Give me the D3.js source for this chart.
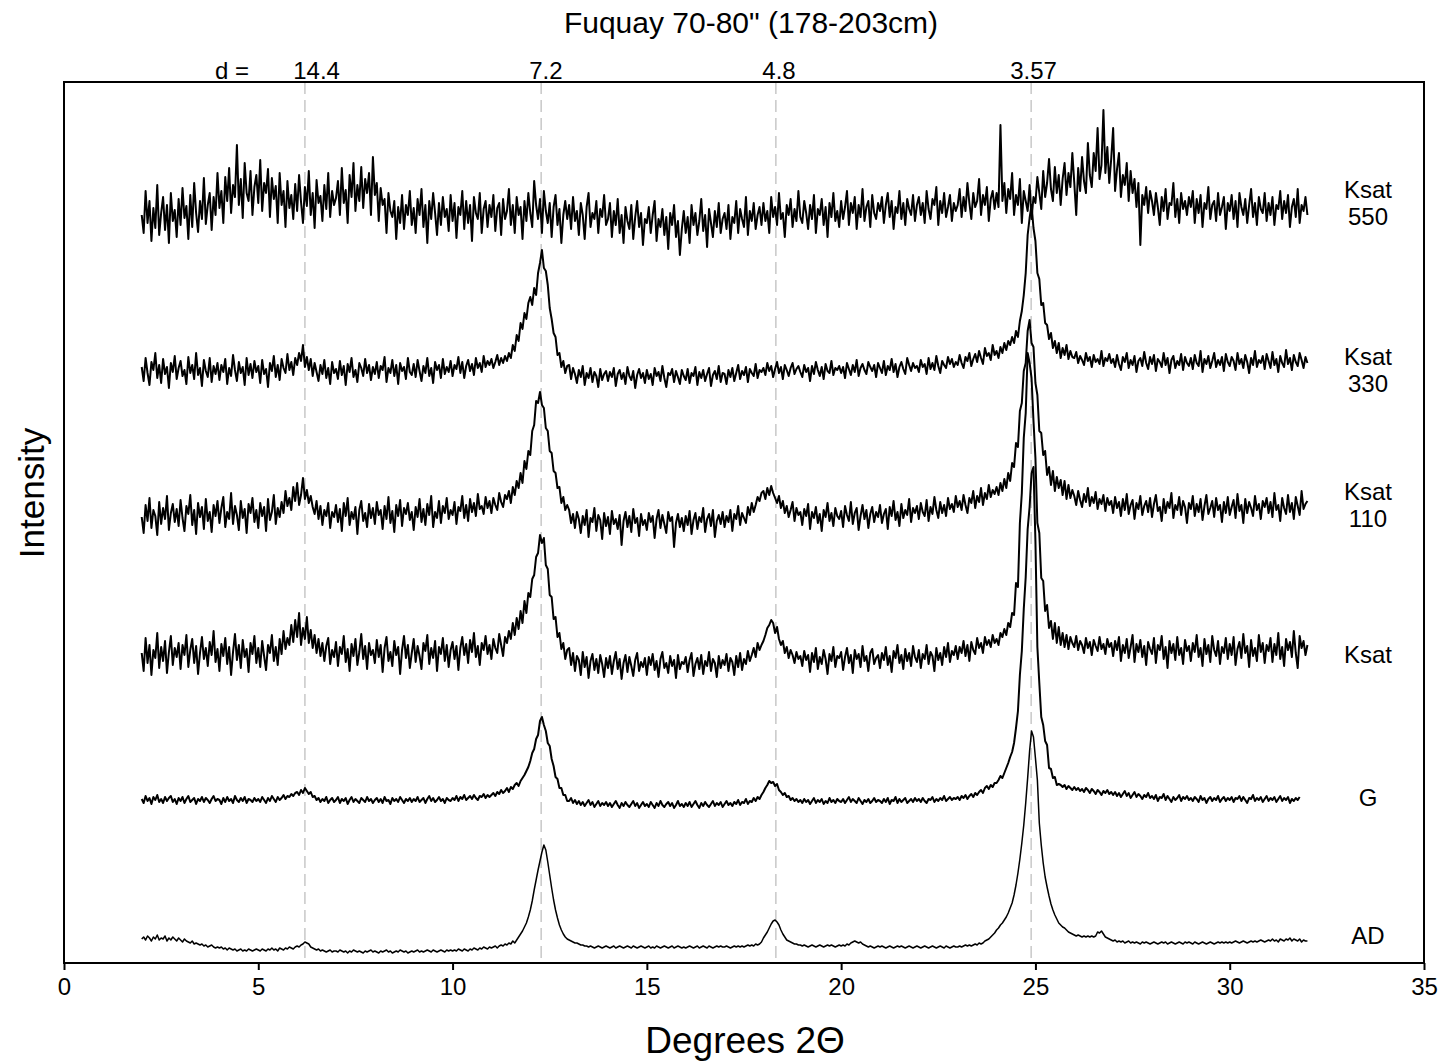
<!DOCTYPE html>
<html>
<head>
<meta charset="utf-8">
<script src="https://cdn.jsdelivr.net/npm/d3@7"></script>
<style>
  body { margin: 0; background: #fff; }
  text { font-family: Arial, "Liberation Sans", sans-serif; fill: #000; }
</style>
</head>
<body>
<svg id="chart" width="1450" height="1064"></svg>
<script>
// ---- data ---------------------------------------------------------------
// Scans run from 2 to 32 degrees 2-theta in 0.05 degree steps.
// Each pattern is stored one row per whole degree (20 readings per row).
const scanStart = 2;
const scanStep = 0.05;

const sampleNames = ["AD", "G", "Ksat", "Ksat 110", "Ksat 330", "Ksat 550"];
const sampleLabelLines = [["AD"], ["G"], ["Ksat"], ["Ksat", "110"], ["Ksat", "330"], ["Ksat", "550"]];
// vertical stacking offset added to each pattern (intensity units)
const stackOffset = [0, 140, 280, 420, 560, 700];

const dSpacings = ["14.4", "7.2", "4.8", "3.57"];
const dSpacingTwoTheta = [6.2, 12.28, 18.32, 24.89];
const dSpacingLabelTwoTheta = [6.5, 12.4, 18.4, 24.95];

const xTickValues = [0, 5, 10, 15, 20, 25, 30, 35];

const adPattern = [
  [24,26,23,27,25,22,26,24,28,23,25,24,27,22,25,23,26,24,22,25],
  [23,21,24,22,21,20,22,19,20,19,18,19,17,18,16,17,18,16,15,16],
  [15,16,14,15,13,15,14,13,14,12,13,14,12,13,12,14,13,12,13,14],
  [13,12,14,13,12,14,13,15,13,14,12,15,14,13,15,14,16,15,14,16],
  [17,16,18,19,21,20,19,16,15,14,13,14,12,13,12,11,12,13,11,12],
  [12,11,13,12,11,12,10,12,11,13,12,11,12,11,10,12,11,12,13,11],
  [12,11,10,12,11,12,13,11,12,10,11,12,11,13,12,11,12,10,11,12],
  [11,12,13,11,12,11,12,13,12,11,13,12,11,12,13,12,11,13,12,13],
  [12,13,12,14,13,12,14,13,12,14,13,15,14,13,15,14,16,15,14,16],
  [15,16,17,15,17,18,17,19,18,20,19,22,20,23,26,29,32,36,40,46],
  [53,62,73,83,93,102,111,118,113,101,88,75,63,53,45,38,33,29,26,24],
  [23,22,21,20,20,19,18,18,17,17,16,17,16,15,16,17,16,15,16,17],
  [16,15,16,17,15,16,17,16,15,16,17,16,15,17,16,15,16,17,16,15],
  [16,17,15,16,15,17,16,15,16,17,16,15,16,17,15,16,17,16,15,16],
  [15,16,17,16,15,16,17,15,16,17,16,15,17,16,15,16,17,16,17,16],
  [16,17,16,15,16,17,16,17,16,17,16,17,18,17,18,17,19,18,19,21],
  [25,28,31,35,39,42,43,41,38,33,29,26,23,22,21,20,19,19,18,18],
  [17,18,17,16,17,18,17,16,17,18,17,16,17,18,17,18,17,16,17,18],
  [17,18,17,19,18,20,21,22,21,20,21,19,18,17,16,17,16,15,16,17],
  [16,17,16,15,16,17,16,15,16,17,16,17,16,15,16,17,16,15,16,17],
  [16,15,16,17,16,15,16,17,16,15,16,17,16,15,17,16,15,16,17,16],
  [16,17,16,17,18,17,18,17,18,19,18,20,19,20,22,23,24,26,28,30],
  [33,35,38,40,43,46,50,55,60,68,78,90,104,120,138,160,185,212,232,226],
  [205,183,140,118,100,86,76,67,59,53,48,44,40,38,36,35,33,31,30,29],
  [28,27,28,27,26,27,26,27,26,27,26,27,31,30,32,29,26,25,24,23],
  [22,23,21,22,21,22,20,21,22,20,21,20,21,20,19,21,20,21,20,19],
  [20,21,20,19,20,21,20,21,19,20,21,20,19,20,21,20,19,21,20,21],
  [20,19,21,20,19,20,21,20,19,20,21,20,19,20,21,20,21,20,21,20],
  [21,20,21,22,21,20,21,22,21,20,21,22,21,22,21,22,23,22,21,22],
  [23,22,24,22,23,21,24,23,22,24,23,25,22,24,23,22,24,21,23,22],
  [22]
];

const gPattern = [
  [24,20,27,22,25,19,26,23,28,21,24,20,26,22,25,27,21,24,19,25],
  [22,26,20,24,27,21,23,25,19,24,22,26,21,25,23,20,24,27,22,24],
  [23,19,25,21,26,22,24,20,27,23,21,25,22,26,20,24,23,21,25,22],
  [24,21,26,23,20,25,22,27,24,21,26,23,25,28,24,27,26,29,27,30],
  [31,28,33,30,35,32,29,31,26,27,23,25,21,24,22,26,20,23,25,21],
  [23,26,20,24,22,25,19,23,26,21,24,22,20,25,23,21,26,22,24,20],
  [23,25,21,24,20,26,22,23,19,25,22,24,21,26,23,20,24,22,25,21],
  [24,22,26,21,23,25,20,24,27,22,25,21,23,26,22,24,20,25,23,22],
  [25,23,27,22,26,24,28,23,25,27,24,28,25,23,27,26,29,25,28,26],
  [28,30,27,31,29,33,30,32,35,31,36,34,38,40,37,42,45,48,52,56],
  [62,70,74,84,88,102,106,98,92,80,77,64,57,46,44,35,35,28,28,22],
  [22,25,20,23,19,22,18,21,17,20,23,18,21,16,19,22,17,20,18,21],
  [17,20,16,19,22,18,15,20,17,21,18,16,19,22,17,20,15,18,21,17],
  [19,16,21,18,15,20,17,22,18,16,19,21,17,20,15,18,22,17,19,16],
  [20,17,21,16,19,22,18,15,20,17,21,18,16,19,22,17,20,18,21,16],
  [19,22,18,20,17,21,19,23,18,21,20,24,19,22,21,25,22,26,24,28],
  [31,35,38,42,40,41,37,39,33,31,28,30,26,27,23,25,22,24,21,23],
  [20,24,21,23,19,22,25,20,23,21,24,19,22,20,25,21,23,20,24,22],
  [21,24,20,23,26,21,24,22,20,25,22,19,23,21,24,20,22,25,21,23],
  [22,20,24,21,25,19,23,22,26,20,24,21,23,25,20,22,24,21,25,22],
  [24,21,25,22,20,24,23,26,21,24,22,25,23,27,22,24,26,23,25,24],
  [26,23,27,25,28,24,27,29,26,30,28,31,33,30,35,37,34,38,36,40],
  [40,43,47,45,50,55,60,66,71,80,95,112,148,172,214,246,294,316,350,356],
  [282,176,140,106,98,82,78,55,54,45,46,38,39,38,36,38,34,37,35,33],
  [36,33,35,32,34,31,35,33,30,34,32,29,33,31,28,32,30,33,29,31],
  [28,31,27,30,26,29,32,27,30,25,28,31,26,29,27,24,28,26,30,25],
  [27,24,28,22,26,25,29,23,27,24,21,26,23,25,28,22,26,24,27,23],
  [25,22,26,24,21,27,23,25,20,24,26,22,25,23,27,21,24,26,22,25],
  [23,26,21,25,24,27,22,26,23,20,25,24,28,22,25,23,26,21,24,27],
  [22,25,23,26,21,24,27,22,25,23,26,20,24,22,25,23,26]
];

const ksatPattern = [
  [30,12,45,20,38,8,33,25,50,15,36,22,42,10,31,47,18,35,26,40],
  [14,38,28,48,16,33,44,20,37,9,30,46,24,35,17,41,28,52,21,34],
  [12,39,27,45,19,36,8,31,49,23,38,15,43,26,34,11,40,29,47,20],
  [35,16,42,27,13,38,30,48,22,36,18,44,29,52,34,45,38,58,41,63],
  [46,70,38,55,44,66,40,53,35,48,30,44,27,40,22,37,45,19,33,26],
  [41,17,36,29,47,21,34,12,39,27,44,18,31,49,24,37,14,40,28,33],
  [20,43,26,38,11,35,46,22,31,17,42,28,36,9,33,47,25,38,15,30],
  [44,21,37,27,14,40,32,48,19,35,25,42,12,36,29,45,22,38,16,33],
  [41,24,37,13,35,46,28,39,20,43,31,50,26,37,18,40,33,47,29,38],
  [24,44,35,30,49,38,27,46,40,52,44,60,48,65,54,72,60,82,70,90],
  [86,104,108,126,130,148,140,145,118,114,88,86,64,66,46,50,34,40,24,33],
  [35,18,30,12,27,23,8,31,16,26,5,22,29,13,24,10,28,19,6,25],
  [15,27,9,22,31,14,24,4,20,28,11,26,17,7,23,30,12,21,16,25],
  [8,26,18,29,13,22,6,24,31,15,20,10,27,17,23,5,28,14,21,19],
  [26,11,23,30,7,19,25,14,28,9,22,17,31,12,24,20,6,27,15,23],
  [18,29,12,25,21,8,27,16,30,13,24,19,32,22,28,35,26,40,33,38],
  [42,48,55,58,63,60,50,56,44,38,42,30,36,25,33,28,20,31,24,27],
  [17,32,23,28,11,30,21,35,14,26,19,33,24,9,29,22,36,16,27,25],
  [31,13,26,35,20,28,10,33,24,29,16,37,22,27,12,30,34,19,25,28],
  [15,30,23,36,18,27,11,32,25,38,20,28,14,34,22,30,17,37,26,21],
  [33,15,29,24,38,19,31,27,12,35,23,30,18,36,26,40,21,32,28,37],
  [24,36,30,42,27,38,22,41,33,29,45,35,40,30,46,38,43,36,48,40],
  [44,38,50,46,54,48,60,56,70,68,100,96,160,190,245,270,330,320,305,262],
  [225,160,150,105,102,72,78,55,62,44,60,40,56,38,50,36,48,34,46,40],
  [36,47,33,42,38,30,45,35,41,28,43,37,32,46,34,39,29,44,36,40],
  [27,42,33,46,22,38,30,44,25,36,48,21,39,31,43,26,37,18,41,34],
  [29,45,20,38,33,47,24,36,15,42,30,39,23,46,28,35,19,43,32,37],
  [22,40,31,48,26,35,17,44,29,38,21,47,33,27,42,19,36,30,45,24],
  [39,28,46,18,34,41,25,49,30,37,16,43,27,35,22,48,31,40,20,38],
  [32,45,21,39,28,50,24,36,17,44,33,41,26,52,30,15,47,35,42,28],
  [38]
];

const ksat110Pattern = [
  [26,10,38,22,45,15,33,27,8,41,19,35,24,47,13,30,39,21,34,17],
  [43,25,12,37,29,48,18,33,9,40,26,36,14,44,22,31,11,38,27,42],
  [20,35,46,16,31,24,50,19,37,28,13,42,25,34,10,39,30,45,21,33],
  [15,40,27,36,12,44,23,31,48,19,35,26,41,30,52,37,45,33,56,42],
  [60,38,48,65,44,53,40,47,36,29,42,24,37,18,33,27,40,15,31,26],
  [38,21,34,12,40,27,45,18,31,24,36,9,33,42,22,30,16,39,25,35],
  [19,41,28,33,14,37,24,46,20,32,11,38,27,43,17,35,29,40,23,31],
  [13,36,26,44,21,34,18,39,28,47,16,31,25,42,20,37,30,45,24,33],
  [28,41,19,36,32,47,25,38,22,44,31,40,27,49,34,37,29,46,35,42],
  [30,45,38,33,50,41,36,48,44,52,40,56,48,62,55,70,60,82,74,92],
  [88,112,118,142,140,151,138,135,115,112,92,90,72,70,55,56,40,46,33,38],
  [33,20,29,15,31,24,10,27,18,33,6,25,21,35,12,28,23,4,30,17],
  [26,9,32,19,24,14,28,-2,22,31,16,27,11,34,20,25,7,29,18,23],
  [13,30,21,27,5,24,33,15,28,19,10,31,22,26,-4,20,29,16,25,12],
  [27,18,32,9,23,30,14,26,21,35,11,24,29,17,33,6,22,28,19,31],
  [16,27,21,33,12,29,24,37,18,30,25,20,36,28,40,31,38,46,42,50],
  [52,44,55,48,57,50,45,40,47,35,42,30,37,26,33,41,22,35,28,31],
  [18,34,27,39,14,31,25,36,20,29,12,33,26,40,22,30,17,35,27,24],
  [32,16,37,28,22,41,19,30,35,13,27,38,24,33,15,29,36,21,31,26],
  [38,20,29,34,14,36,27,42,23,31,17,39,25,33,28,44,21,35,30,37],
  [24,40,31,27,43,22,36,29,46,33,25,41,30,38,27,45,34,39,31,47],
  [36,42,33,48,38,30,45,40,52,35,47,41,55,38,50,44,58,46,53,49],
  [56,48,60,52,64,55,70,62,80,76,100,96,132,140,172,180,212,223,200,196],
  [160,148,112,110,88,92,68,76,58,72,52,66,55,63,48,62,44,58,45,53],
  [47,38,52,43,36,49,41,55,37,46,40,51,34,44,39,48,32,45,38,42],
  [30,46,35,41,27,44,33,49,29,38,43,24,40,34,47,28,37,42,31,45],
  [26,39,48,32,36,22,44,30,41,35,50,25,38,33,46,28,42,36,20,40],
  [34,47,27,39,31,44,23,37,48,29,35,42,26,45,33,38,21,41,30,46],
  [28,36,43,25,49,32,38,20,44,30,41,35,27,47,33,39,24,42,36,45],
  [30,41,26,50,33,38,22,45,35,29,48,31,40,24,46,37,28,52,34,39],
  [42]
];

const ksat330Pattern = [
  [36,22,45,30,18,41,33,50,25,38,20,44,29,36,15,40,31,47,24,35],
  [42,27,33,19,46,30,38,24,50,28,35,17,43,32,26,45,21,37,29,40],
  [23,38,31,44,19,35,27,48,33,22,41,30,36,18,45,28,39,25,42,31],
  [37,20,43,29,34,16,40,32,47,26,38,23,44,35,30,49,33,41,28,45],
  [38,50,42,58,36,46,33,44,27,40,31,22,38,29,43,25,35,19,41,30],
  [34,24,42,28,37,18,39,31,45,26,33,21,40,35,27,44,30,38,23,36],
  [29,41,25,37,33,46,21,35,30,43,27,38,19,40,32,36,24,45,31,28],
  [39,26,43,32,22,37,30,45,27,35,20,41,33,38,25,44,29,36,31,42],
  [27,38,34,46,30,41,25,37,43,32,39,28,45,35,40,31,47,36,42,38],
  [44,35,41,48,38,45,40,47,42,50,45,58,52,68,62,80,74,90,84,100],
  [106,98,115,108,130,140,153,135,132,118,95,84,70,66,48,50,36,42,30,37],
  [38,24,35,29,20,33,26,37,18,30,25,35,21,31,27,16,34,23,29,32],
  [22,31,26,35,17,29,33,24,30,19,36,27,23,32,15,28,34,25,30,20],
  [33,24,29,18,35,27,31,22,37,25,16,30,28,34,21,32,26,19,33,27],
  [23,34,20,30,27,36,18,31,25,33,22,29,35,17,28,32,24,37,21,30],
  [29,19,33,26,35,22,30,38,24,32,28,36,21,34,30,27,39,25,33,31],
  [35,28,40,32,37,26,34,41,30,36,24,38,33,27,35,40,29,34,37,31],
  [26,38,31,35,22,37,29,41,33,27,36,24,39,32,30,42,28,35,33,37],
  [30,36,25,40,34,28,38,31,43,27,35,39,33,29,41,36,32,38,26,40],
  [35,30,42,28,37,33,44,31,39,26,36,41,34,29,45,38,32,40,35,37],
  [31,43,36,39,29,45,34,40,33,47,37,30,42,38,35,46,39,44,36,41],
  [38,48,40,35,46,42,50,37,44,49,41,52,45,39,55,47,50,43,58,48],
  [52,45,56,50,60,53,62,58,66,60,72,66,82,92,108,130,168,185,198,175],
  [162,130,124,98,100,80,78,64,70,55,62,50,60,45,55,48,58,44,52,46],
  [45,51,40,47,43,38,50,42,46,36,48,41,44,39,52,37,45,42,49,40],
  [44,36,48,39,33,46,41,50,35,43,38,47,31,42,45,37,51,40,34,46],
  [39,48,32,44,41,36,50,38,45,30,43,47,35,42,38,49,33,46,40,37],
  [45,34,48,40,37,52,31,44,39,47,35,42,50,36,43,38,46,32,49,41],
  [37,46,42,33,50,39,44,35,48,41,30,45,38,52,36,43,40,47,34,49],
  [42,35,51,38,44,31,47,40,36,53,39,45,33,48,41,37,50,43,35,46],
  [40]
];

const ksat550Pattern = [
  [48,30,72,40,62,22,55,35,78,28,50,66,33,58,20,70,42,53,26,64],
  [38,75,45,57,24,68,36,80,50,31,62,44,85,39,58,70,33,66,48,90],
  [55,72,40,86,62,95,50,78,66,118,58,84,45,100,70,62,92,48,76,88],
  [60,103,52,80,70,94,46,85,64,77,40,90,58,72,36,82,55,68,44,79],
  [52,88,61,40,76,57,92,48,70,35,83,60,67,42,78,54,90,46,72,58],
  [65,82,48,95,60,73,40,88,66,100,52,78,62,96,55,84,70,90,48,106],
  [68,80,42,75,58,64,30,70,52,46,62,24,56,40,68,34,58,48,72,38],
  [55,30,64,48,74,36,58,20,62,44,70,50,28,60,38,66,46,54,32,68],
  [42,60,25,56,48,72,34,62,40,58,22,66,50,44,70,30,54,62,36,58],
  [46,68,32,55,60,28,64,44,52,74,38,58,30,66,48,56,24,62,42,70],
  [50,36,82,58,44,64,30,72,52,40,60,26,56,68,38,54,20,48,62,44],
  [58,34,66,42,52,28,60,48,24,56,70,36,50,44,62,30,54,46,68,38],
  [44,60,26,52,38,64,30,48,20,56,42,34,58,24,46,62,36,50,18,44],
  [40,56,30,48,62,22,44,36,54,28,46,14,50,38,58,26,42,8,34,52],
  [30,46,20,58,38,50,28,42,64,32,48,16,54,40,26,52,36,60,30,44],
  [50,34,58,24,46,40,62,30,54,44,36,66,28,52,42,60,34,48,56,38],
  [60,42,52,30,66,46,56,38,70,44,50,26,58,48,64,36,54,42,72,46],
  [40,62,50,34,58,44,68,30,54,48,64,38,56,26,60,46,70,42,52,36],
  [62,44,56,72,38,60,50,66,34,58,46,74,42,56,62,36,68,50,44,60],
  [52,66,40,58,70,46,62,34,56,50,72,44,60,38,64,54,48,68,42,58],
  [66,48,60,40,72,54,44,64,58,76,38,62,50,70,46,56,68,42,60,52],
  [58,74,46,66,52,80,60,44,70,56,62,84,48,68,58,76,42,64,72,54],
  [70,56,138,62,80,50,74,64,90,48,68,58,84,40,72,62,52,78,44,66],
  [60,86,70,54,92,66,80,104,74,62,96,70,88,58,84,100,68,90,76,110],
  [80,48,95,72,106,82,70,120,88,76,110,92,135,84,98,153,90,116,80,104],
  [135,72,94,110,66,88,78,100,62,92,70,84,56,80,18,68,58,76,50,72],
  [62,48,70,56,38,66,52,74,44,60,58,80,46,64,40,70,54,62,48,66],
  [56,72,40,64,50,68,36,60,54,76,44,58,62,42,70,48,56,66,34,60],
  [52,68,44,62,36,70,56,48,64,40,58,74,46,60,38,66,54,50,70,42],
  [60,48,66,38,58,54,72,44,62,50,68,36,56,64,46,74,40,58,52,66],
  [48]
];

const patterns = [adPattern, gPattern, ksatPattern, ksat110Pattern, ksat330Pattern, ksat550Pattern];

// ---- layout -------------------------------------------------------------
const svg = d3.select("#chart");
const plot = { left: 64, right: 1424, top: 82, bottom: 963 };

const x = d3.scaleLinear().domain([0, 35]).range([plot.left, plot.right]);
const y = d3.scaleLinear().domain([0, plot.bottom - plot.top]).range([plot.bottom, plot.top]);

// unroll the per-degree rows into [2theta, intensity] points
function toPoints(rows) {
  const pts = [];
  rows.forEach((row, r) => {
    row.forEach((v, j) => pts.push([scanStart + r + j * scanStep, v]));
  });
  return pts;
}

// reference d-spacing lines
svg.append("g")
  .selectAll("line")
  .data(dSpacingTwoTheta)
  .join("line")
  .attr("x1", d => x(d)).attr("x2", d => x(d))
  .attr("y1", plot.top).attr("y2", plot.bottom)
  .attr("stroke", "#c8c8c8")
  .attr("stroke-width", 1.5)
  .attr("stroke-dasharray", "12,6");

// diffraction patterns
const line = d3.line().x(d => x(d[0]));
svg.append("g")
  .selectAll("path")
  .data(patterns.map((rows, i) => ({ name: sampleNames[i], offset: stackOffset[i], pts: toPoints(rows) })))
  .join("path")
  .attr("fill", "none")
  .attr("stroke", "#000")
  .attr("stroke-width", (d, i) => i === 0 ? 1.5 : 2)
  .attr("stroke-linejoin", "round")
  .attr("d", d => line.y(p => y(d.offset + p[1]))(d.pts));

// frame
svg.append("rect")
  .attr("x", plot.left).attr("y", plot.top)
  .attr("width", plot.right - plot.left).attr("height", plot.bottom - plot.top)
  .attr("fill", "none").attr("stroke", "#000").attr("stroke-width", 2);

// bottom axis
const xAxis = d3.axisBottom(x).tickValues(xTickValues).tickSize(7).tickPadding(8).tickFormat(d3.format("d"));
const gx = svg.append("g").attr("transform", `translate(0,${plot.bottom})`).call(xAxis);
gx.select(".domain").remove();
gx.selectAll(".tick line").attr("stroke", "#000").attr("stroke-width", 2);
gx.selectAll(".tick text").attr("font-size", 24).attr("font-family", "Arial, 'Liberation Sans', sans-serif").attr("fill", "#000");

// d-spacing labels along the top
svg.append("text").attr("x", 232).attr("y", 79).attr("text-anchor", "middle").attr("font-size", 24).text("d =");
svg.append("g")
  .selectAll("text")
  .data(dSpacings)
  .join("text")
  .attr("x", (d, i) => x(dSpacingLabelTwoTheta[i]))
  .attr("y", 79)
  .attr("text-anchor", "middle")
  .attr("font-size", 24)
  .text(d => d);

// title
svg.append("text").attr("x", 751).attr("y", 33).attr("text-anchor", "middle").attr("font-size", 30)
  .text("Fuquay 70-80\" (178-203cm)");

// axis titles
svg.append("text").attr("x", 745).attr("y", 1053).attr("text-anchor", "middle").attr("font-size", 37)
  .text("Degrees 2\u0398");
svg.append("text").attr("transform", "translate(44,493) rotate(-90)").attr("text-anchor", "middle").attr("font-size", 35)
  .text("Intensity");

// sample labels at the right
const labelBaselines = [[944], [806], [663], [500, 527], [365, 392], [198, 225]];
const labels = svg.append("g").attr("text-anchor", "middle").attr("font-size", 24);
sampleLabelLines.forEach((lines, i) => {
  lines.forEach((t, k) => {
    labels.append("text").attr("x", 1368).attr("y", labelBaselines[i][k]).text(t);
  });
});
</script>
</body>
</html>
